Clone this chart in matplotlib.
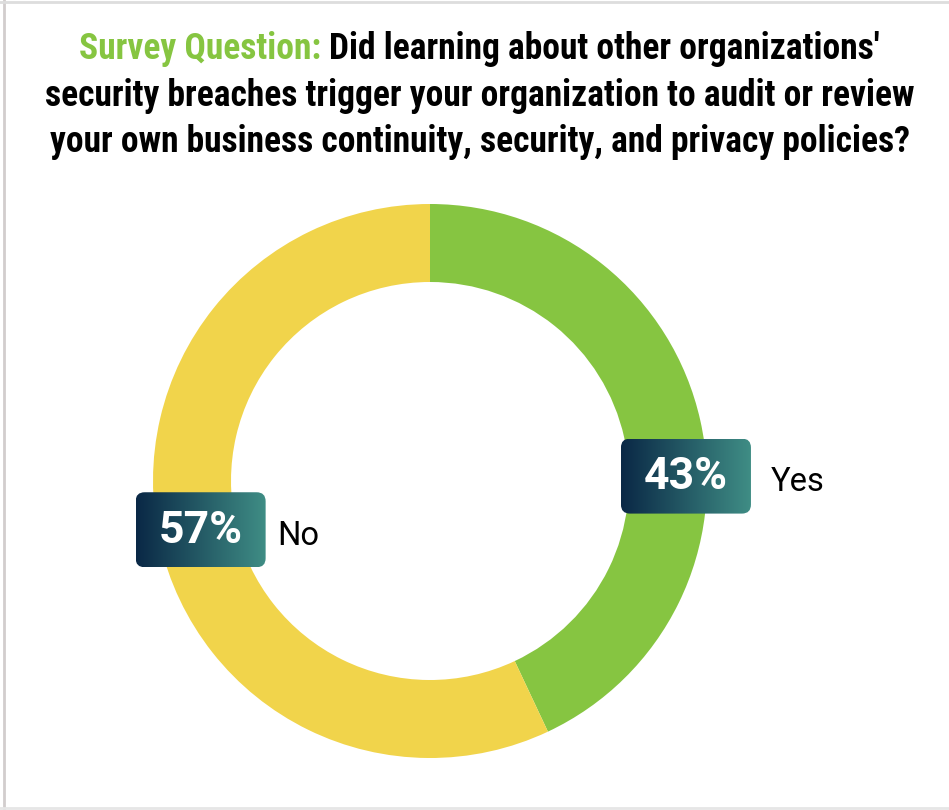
import numpy as np
import matplotlib.pyplot as plt
from matplotlib.patches import FancyBboxPatch
from matplotlib.colors import LinearSegmentedColormap
from matplotlib.lines import Line2D

# survey answers
answers = ['Yes', 'No']
shares = [43, 57]
colors = ['#86c541', '#f1d44b']

title_lead = 'Survey Question: '
title_lines = ["Did learning about other organizations'",
               'security breaches trigger your organization to audit or review',
               'your own business continuity, security, and privacy policies?']

W, H = 949, 810
fig = plt.figure(figsize=(W / 100, H / 100), dpi=100)
ax = fig.add_axes([0, 0, 1, 1])

# donut
cx, cy, R = 430, 329, 277
wedges, _ = ax.pie(shares, colors=colors, startangle=90, counterclock=False,
                   radius=R, center=(cx, cy), frame=True,
                   wedgeprops=dict(width=78, linewidth=0))
ax.set_aspect('equal')

# label boxes: anchor angle (deg), radius, gap to the answer text
label_pos = {'Yes': (1.1, 256, 20), 'No': (192.0, 234.5, 12)}
grad = LinearSegmentedColormap.from_list('lbl', ['#0a2846', '#3f8d85'])
bw, bh = 130, 75
for name, val in zip(answers, shares):
    ang, rr, gap = label_pos[name]
    bx = cx + rr * np.cos(np.radians(ang))
    by = cy + rr * np.sin(np.radians(ang))
    x0, y0 = bx - bw / 2, by - bh / 2
    box = FancyBboxPatch((x0, y0), bw, bh, boxstyle='round,pad=0,rounding_size=9',
                         facecolor='none', edgecolor='none', zorder=3)
    ax.add_patch(box)
    img = ax.imshow(np.linspace(0, 1, 256).reshape(1, -1), cmap=grad, aspect='auto',
                    extent=(x0, x0 + bw, y0, y0 + bh), zorder=3)
    img.set_clip_path(box)
    ax.text(bx, by - 1, f'{val}%', color='white', fontsize=32, fontweight='bold',
            family='Roboto', ha='center', va='center', zorder=4)
    ax.text(x0 + bw + gap, by - 6, name, color='black', fontsize=23.5,
            family='Roboto', ha='left', va='center', zorder=4)
ax.set_xlim(0, W)
ax.set_ylim(0, H)
ax.axis('off')

# title, first line split into a green lead and black text
tfam = ['Roboto Condensed', 'Liberation Sans Narrow', 'Roboto']
tsize = 25.6
xc = W / 2 + 5
lead = fig.text(0, 0, title_lead, color='#86c541', fontsize=tsize, fontweight='bold',
                family=tfam, va='baseline')
rest = fig.text(0, 0, title_lines[0], color='black', fontsize=tsize, fontweight='bold',
                family=tfam, va='baseline')
fig.canvas.draw()
r = fig.canvas.get_renderer()
w1 = lead.get_window_extent(r).width
w2 = rest.get_window_extent(r).width
xs = xc - (w1 + w2) / 2
lead.set_position((xs / W, 1 - 59 / H))
rest.set_position(((xs + w1) / W, 1 - 59 / H))
for i, line in enumerate(title_lines[1:]):
    fig.text(xc / W, 1 - (106 + 46 * i) / H, line, color='black',
             fontsize=tsize, fontweight='bold', family=tfam, ha='center', va='baseline')

# thin frame around the card
fig.add_artist(Line2D([4 / W, 4 / W], [0, 1], color='#d2cdcd', linewidth=2))
fig.add_artist(Line2D([0, 1], [1 - 2 / H, 1 - 2 / H], color='#dddddd', linewidth=2))
fig.add_artist(Line2D([0, 1], [2 / H, 2 / H], color='#e6e6e6', linewidth=2))

fig.savefig('out.png', dpi=100, facecolor='white')
